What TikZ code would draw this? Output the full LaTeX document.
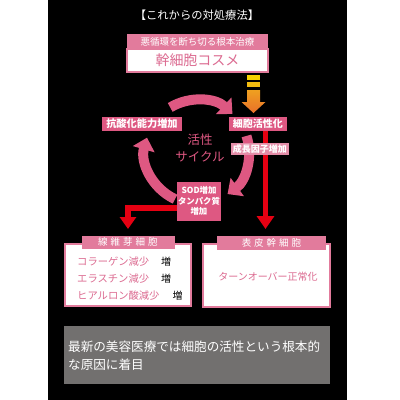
\documentclass[tikz,border=0pt]{standalone}
\usepackage{fontspec}
\setmainfont{Noto Sans CJK JP}
\usetikzlibrary{arrows.meta}
\definecolor{pinkA}{HTML}{DE5882}
\definecolor{pinkH}{HTML}{E27B9C}
\definecolor{pinkL}{HTML}{E48DA8}
\definecolor{pinkT}{HTML}{DC6B91}
\definecolor{redA}{HTML}{E60012}
\definecolor{grayA}{HTML}{72706F}
\definecolor{yelA}{HTML}{F6D200}
\definecolor{yelB}{HTML}{F2BC10}
\definecolor{oraA}{HTML}{EFA020}
\definecolor{oraB}{HTML}{E8702A}
\tikzset{
  fsz/.style={font=\fontsize{#1}{#1}\selectfont},
  bfsz/.style={font=\fontsize{#1}{#1}\selectfont\bfseries},
  pbox/.style={inner sep=0pt, fill=pinkA, text=white},
  hbox/.style={inner sep=0pt, fill=pinkH, text=white},
  wbox/.style={inner sep=0pt, fill=white, draw=pinkH, line width=1.2pt},
  cyc/.style={draw=pinkA, line width=10pt, -{Triangle[width=22pt,length=12pt]}},
  redline/.style={draw=redA, line width=5pt, -{Triangle[width=17pt,length=13pt]}},
}
\begin{document}
\begin{tikzpicture}[x=1pt,y=-1pt]
\useasboundingbox (0,0) rectangle (400,400);
\fill[white] (0,0) rectangle (400,400);
\fill[black] (48,0) rectangle (347,400);

% title
\node[text=white, fsz=11.3] (title) at (197,15) {【これからの対処療法】};

% header boxes
\node[hbox, minimum width=141pt, minimum height=15pt, fsz=9.5] (hdr) at (197.5,41.5) {悪循環を断ち切る根本治療};
\node[wbox, minimum width=141pt, minimum height=23pt, text=pinkT, fsz=14] (cosme) at (197.5,60.5) {幹細胞コスメ};

% gradient bars and arrow
\fill[yelA] (247,75) rectangle (260,80);
\fill[yelB] (247,82) rectangle (260,87);
\shade[top color=oraA, bottom color=oraB] (247,90) -- (260,90) -- (260,102) -- (265.5,102) -- (253.5,113) -- (241.5,102) -- (247,102) -- cycle;

% cycle arcs
\coordinate (cc) at (197,152);
\draw[cyc] ([shift={(-121:52)}]cc) arc[start angle=-121, end angle=-47, radius=52];
\draw[cyc] ([shift={(-18:52)}]cc) arc[start angle=-18, end angle=54, radius=52];
\draw[cyc] ([shift={(115:52)}]cc) arc[start angle=115, end angle=196, radius=52];

% coordinates for red arrow ends
\coordinate (rtip) at (265.5,229);
\coordinate (ltip) at (128,229);
\coordinate (lbend) at (128,207.5);

% nodes of the cycle
\node[pbox, minimum width=58pt, minimum height=14pt, bfsz=10] (kass) at (258,124) {細胞活性化};
\draw[redline] (kass.south -| rtip) -- (rtip);
\node[inner sep=0pt, fill=pinkL, text=white, minimum width=58pt, minimum height=12pt, bfsz=9] (seich) at (260,149) {成長因子増加};
\node[pbox, minimum width=80pt, minimum height=14pt, bfsz=10.2] (kous) at (142,124) {抗酸化能力増加};
\node[pbox, minimum width=44pt, minimum height=39pt, bfsz=8.4, align=center] (sod) at (199,201) {SOD増加\\[2pt]タンパク質\\[2pt]増加};
\draw[redline, line width=6pt, -{Triangle[width=16pt,length=12pt]}] (sod.west |- lbend) -- (lbend) -- (ltip);

\node[text=pinkA, fsz=12.5, align=center] (cyclab) at (200,148.5) {活性\\[4.5pt]サイクル};

% bottom left box
\node[wbox, minimum width=126pt, minimum height=62pt] (fbox) at (128,275) {};
\node[hbox, minimum width=93pt, minimum height=13pt, fsz=9.5] (fhdr) at (128,242) {線\hspace{3pt}維\hspace{3pt}芽\hspace{3pt}細\hspace{3pt}胞};
\node[anchor=west, inner sep=0pt, text=pinkT, fsz=10.3] (f1) at (77,262) {コラーゲン減少};
\node[inner sep=0pt, text=black, fsz=10] (f1b) at (166,262) {増};
\node[anchor=west, inner sep=0pt, text=pinkT, fsz=10.3] (f2) at (77,279) {エラスチン減少};
\node[inner sep=0pt, text=black, fsz=10] (f2b) at (166,279) {増};
\node[anchor=west, inner sep=0pt, text=pinkT, fsz=10.3] (f3) at (77,296) {ヒアルロン酸減少};
\node[inner sep=0pt, text=black, fsz=10] (f3b) at (177.5,296) {増};

% bottom right box
\node[wbox, minimum width=127pt, minimum height=63pt] (ebox) at (266.5,275.5) {};
\node[hbox, minimum width=109pt, minimum height=14pt, fsz=9.5] (ehdr) at (271.5,243) {表\hspace{3pt}皮\hspace{3pt}幹\hspace{3pt}細\hspace{3pt}胞};
\node[text=pinkT, fsz=10] (etxt) at (268,277) {ターンオーバー正常化};

% gray note
\node[fill=grayA, minimum width=266pt, minimum height=58pt, inner sep=0pt] (note) at (197,355) {};
\node[anchor=west, inner sep=0pt, text=white, fsz=12.6] (n1) at (68,347) {最新の美容医療では細胞の活性という根本的};
\node[anchor=west, inner sep=0pt, text=white, fsz=12.6] (n2) at (68,365) {な原因に着目};
\end{tikzpicture}
\end{document}
